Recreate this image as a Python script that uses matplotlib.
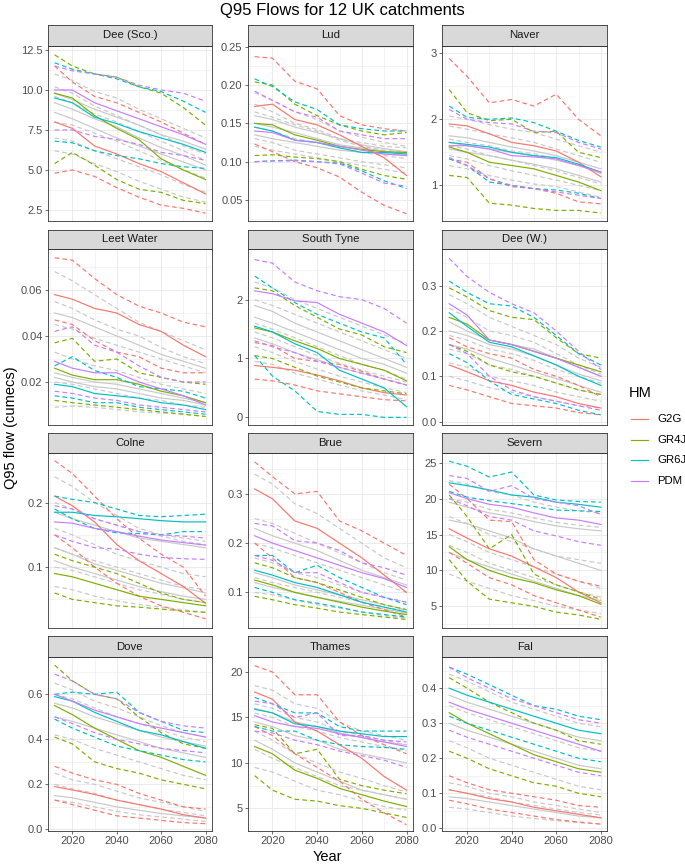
import matplotlib
matplotlib.use("Agg")
import matplotlib.pyplot as plt
from matplotlib.lines import Line2D

plt.rcParams['font.family'] = ['Liberation Sans', 'DejaVu Sans']

# ---------------- data ----------------
YEARS = [2012, 2020, 2030, 2040, 2050, 2060, 2070, 2080]
HMS = ["G2G", "GR4J", "GR6J", "PDM"]
HM_COLORS = ["#F8766D", "#7CAE00", "#00BFC4", "#C77CFF"]
CATCHMENTS = ["Dee (Sco.)", "Lud", "Naver", "Leet Water", "South Tyne", "Dee (W.)",
              "Colne", "Brue", "Severn", "Dove", "Thames", "Fal"]

# each HM entry: [median, upper, lower]
# Dee (Sco.)
dee_sco_g2g = [[8.0, 7.6, 6.5, 6.0, 5.4, 4.9, 4.2, 3.5], [11.5, 10.5, 9.6, 9.2, 8.6, 8.0, 7.3, 6.6], [4.8, 5.0, 4.6, 3.9, 3.3, 2.8, 2.6, 2.3]]
dee_sco_gr4j = [[9.8, 9.5, 8.4, 7.6, 6.9, 5.7, 5.0, 4.4], [12.2, 11.5, 11.0, 10.8, 10.2, 9.8, 8.9, 7.8], [5.4, 6.1, 5.3, 4.4, 3.8, 3.6, 3.1, 2.9]]
dee_sco_gr6j = [[9.5, 9.2, 8.3, 7.9, 7.4, 7.0, 6.6, 6.1], [11.7, 11.3, 11.0, 10.7, 10.2, 9.9, 9.3, 8.6], [6.8, 6.7, 6.2, 5.9, 5.7, 5.4, 5.2, 5.1]]
dee_sco_pdm = [[10.0, 10.0, 9.2, 8.7, 8.2, 7.7, 7.2, 6.6], [11.5, 11.2, 11.0, 10.8, 10.3, 10.0, 9.8, 9.3], [7.5, 7.5, 7.1, 6.9, 6.6, 6.1, 5.9, 5.6]]
dee_sco_grey_solid = [[9.2, 8.8, 8.2, 7.7, 7.0, 6.4, 5.9, 5.3], [8.6, 8.2, 7.6, 7.0, 6.5, 6.0, 5.5, 5.0], [9.8, 9.4, 8.8, 8.3, 7.8, 7.2, 6.8, 6.3]]
dee_sco_grey_dashed = [[11.0, 10.6, 9.9, 9.5, 8.8, 8.2, 7.6, 7.0], [7.0, 6.8, 6.2, 5.7, 5.2, 4.7, 4.1, 3.6],
                       [10.2, 9.8, 9.0, 8.4, 7.8, 7.2, 6.5, 6.0], [6.2, 6.0, 5.4, 4.9, 4.3, 3.8, 3.3, 3.0],
                       [8.0, 7.8, 7.3, 6.8, 6.2, 5.6, 5.0, 4.5], [9.6, 9.2, 8.5, 8.0, 7.4, 6.8, 6.2, 5.6]]

# Lud
lud_g2g = [[0.172, 0.175, 0.155, 0.148, 0.135, 0.12, 0.105, 0.082], [0.237, 0.235, 0.205, 0.195, 0.16, 0.148, 0.143, 0.14], [0.123, 0.113, 0.1, 0.092, 0.08, 0.06, 0.043, 0.032]]
lud_gr4j = [[0.15, 0.148, 0.135, 0.128, 0.12, 0.116, 0.113, 0.112], [0.204, 0.2, 0.175, 0.16, 0.148, 0.14, 0.135, 0.138], [0.108, 0.109, 0.106, 0.104, 0.1, 0.09, 0.082, 0.077]]
lud_gr6j = [[0.145, 0.14, 0.128, 0.125, 0.118, 0.112, 0.112, 0.11], [0.208, 0.198, 0.178, 0.168, 0.148, 0.143, 0.14, 0.14], [0.1, 0.101, 0.102, 0.1, 0.098, 0.088, 0.075, 0.065]]
lud_pdm = [[0.14, 0.138, 0.128, 0.125, 0.12, 0.115, 0.11, 0.108], [0.192, 0.18, 0.165, 0.158, 0.14, 0.135, 0.13, 0.13], [0.1, 0.101, 0.101, 0.1, 0.097, 0.085, 0.072, 0.068]]
lud_grey_solid = [[0.16, 0.155, 0.145, 0.138, 0.13, 0.122, 0.117, 0.113], [0.135, 0.13, 0.125, 0.12, 0.115, 0.112, 0.11, 0.108], [0.15, 0.145, 0.138, 0.13, 0.122, 0.118, 0.114, 0.11]]
lud_grey_dashed = [[0.19, 0.18, 0.165, 0.155, 0.14, 0.132, 0.125, 0.12], [0.12, 0.115, 0.11, 0.105, 0.1, 0.095, 0.09, 0.085],
                   [0.175, 0.165, 0.15, 0.142, 0.13, 0.125, 0.12, 0.118], [0.13, 0.125, 0.115, 0.11, 0.105, 0.1, 0.096, 0.092],
                   [0.145, 0.14, 0.13, 0.125, 0.118, 0.112, 0.108, 0.104], [0.165, 0.158, 0.148, 0.14, 0.128, 0.12, 0.115, 0.112]]

# Naver
naver_g2g = [[1.93, 1.9, 1.78, 1.65, 1.6, 1.52, 1.35, 1.13], [2.92, 2.65, 2.25, 2.3, 2.2, 2.38, 2.0, 1.75], [1.4, 1.35, 1.1, 0.98, 0.95, 0.88, 0.75, 0.72]]
naver_gr4j = [[1.58, 1.5, 1.35, 1.3, 1.25, 1.15, 1.05, 0.92], [2.45, 2.1, 1.98, 2.0, 1.8, 1.82, 1.5, 1.42], [1.15, 1.12, 0.73, 0.7, 0.65, 0.62, 0.62, 0.58]]
naver_gr6j = [[1.65, 1.62, 1.58, 1.5, 1.45, 1.42, 1.32, 1.2], [2.2, 2.03, 2.0, 2.02, 1.95, 1.82, 1.68, 1.58], [1.4, 1.3, 1.05, 1.0, 0.95, 0.93, 0.88, 0.8]]
naver_pdm = [[1.6, 1.6, 1.55, 1.45, 1.43, 1.4, 1.3, 1.2], [2.15, 2.0, 1.95, 1.93, 1.82, 1.8, 1.65, 1.55], [1.42, 1.3, 1.1, 1.0, 0.95, 0.9, 0.85, 0.8]]
naver_grey_solid = [[1.75, 1.72, 1.65, 1.58, 1.52, 1.45, 1.35, 1.25], [1.55, 1.5, 1.45, 1.38, 1.32, 1.25, 1.15, 1.05], [1.65, 1.6, 1.55, 1.5, 1.45, 1.38, 1.3, 1.18]]
naver_grey_dashed = [[2.05, 2.0, 1.92, 1.85, 1.8, 1.7, 1.6, 1.5], [1.3, 1.25, 1.15, 1.08, 1.02, 0.98, 0.9, 0.82],
                     [1.9, 1.85, 1.78, 1.72, 1.65, 1.55, 1.45, 1.35], [1.45, 1.4, 1.3, 1.22, 1.15, 1.08, 1.0, 0.92],
                     [1.7, 1.65, 1.6, 1.52, 1.48, 1.4, 1.3, 1.2], [1.6, 1.55, 1.45, 1.38, 1.3, 1.22, 1.12, 1.02]]

# Leet Water
leet_g2g = [[0.058, 0.056, 0.052, 0.05, 0.045, 0.042, 0.036, 0.031], [0.074, 0.073, 0.065, 0.058, 0.053, 0.05, 0.046, 0.044], [0.047, 0.045, 0.038, 0.033, 0.031, 0.026, 0.024, 0.024]]
leet_gr4j = [[0.026, 0.023, 0.021, 0.021, 0.019, 0.016, 0.014, 0.011], [0.037, 0.039, 0.029, 0.03, 0.024, 0.022, 0.02, 0.019], [0.012, 0.011, 0.01, 0.009, 0.008, 0.007, 0.006, 0.005]]
leet_gr6j = [[0.019, 0.018, 0.015, 0.014, 0.013, 0.011, 0.01, 0.008], [0.027, 0.031, 0.025, 0.022, 0.018, 0.017, 0.016, 0.013], [0.014, 0.013, 0.011, 0.011, 0.009, 0.008, 0.007, 0.006]]
leet_pdm = [[0.029, 0.026, 0.024, 0.024, 0.02, 0.017, 0.014, 0.01], [0.042, 0.044, 0.036, 0.033, 0.027, 0.022, 0.02, 0.02], [0.016, 0.015, 0.013, 0.012, 0.01, 0.009, 0.008, 0.007]]
leet_grey_solid = [[0.05, 0.048, 0.044, 0.04, 0.036, 0.032, 0.029, 0.026], [0.024, 0.022, 0.02, 0.019, 0.017, 0.015, 0.013, 0.011], [0.022, 0.02, 0.018, 0.017, 0.015, 0.013, 0.012, 0.01]]
leet_grey_dashed = [[0.068, 0.064, 0.058, 0.052, 0.046, 0.042, 0.038, 0.034], [0.009, 0.0095, 0.009, 0.008, 0.007, 0.0065, 0.006, 0.005],
                    [0.055, 0.052, 0.047, 0.043, 0.04, 0.035, 0.031, 0.028], [0.033, 0.03, 0.027, 0.025, 0.022, 0.019, 0.017, 0.015],
                    [0.045, 0.043, 0.039, 0.036, 0.033, 0.03, 0.027, 0.024], [0.02, 0.019, 0.017, 0.015, 0.013, 0.012, 0.01, 0.009]]

# South Tyne
styne_g2g = [[0.88, 0.85, 0.8, 0.72, 0.62, 0.5, 0.42, 0.38], [1.27, 1.22, 1.0, 0.95, 0.9, 0.78, 0.65, 0.55], [0.65, 0.62, 0.55, 0.45, 0.4, 0.35, 0.3, 0.28]]
styne_gr4j = [[1.52, 1.45, 1.3, 1.17, 1.0, 0.9, 0.8, 0.62], [2.2, 2.15, 1.9, 1.7, 1.5, 1.4, 1.2, 1.1], [1.05, 1.0, 0.85, 0.7, 0.6, 0.5, 0.45, 0.4]]
styne_gr6j = [[1.55, 1.45, 1.25, 1.1, 0.8, 0.65, 0.5, 0.18], [2.4, 2.2, 1.95, 1.75, 1.6, 1.45, 1.35, 0.9], [1.05, 0.7, 0.45, 0.1, 0.05, 0.05, 0.0, 0.0]]
styne_pdm = [[2.15, 2.1, 1.98, 1.95, 1.75, 1.6, 1.45, 1.22], [2.68, 2.62, 2.3, 2.15, 2.05, 2.0, 1.85, 1.6], [1.3, 1.2, 1.1, 0.95, 0.85, 0.75, 0.65, 0.55]]
styne_grey_solid = [[1.9, 1.8, 1.6, 1.45, 1.3, 1.15, 1.0, 0.85], [1.35, 1.25, 1.1, 0.98, 0.85, 0.75, 0.65, 0.55], [1.7, 1.6, 1.45, 1.3, 1.15, 1.0, 0.9, 0.75]]
styne_grey_dashed = [[2.3, 2.2, 2.0, 1.85, 1.7, 1.55, 1.4, 1.25], [0.95, 0.9, 0.75, 0.65, 0.55, 0.45, 0.38, 0.3],
                     [2.0, 1.9, 1.75, 1.6, 1.45, 1.3, 1.15, 1.0], [1.2, 1.1, 0.95, 0.82, 0.7, 0.6, 0.5, 0.42],
                     [1.6, 1.5, 1.35, 1.2, 1.05, 0.9, 0.8, 0.65], [1.45, 1.35, 1.2, 1.05, 0.92, 0.8, 0.7, 0.6]]

# Dee (W.)
deew_g2g = [[0.125, 0.11, 0.09, 0.08, 0.065, 0.055, 0.04, 0.03], [0.185, 0.165, 0.15, 0.14, 0.115, 0.1, 0.08, 0.055], [0.08, 0.07, 0.055, 0.04, 0.035, 0.03, 0.02, 0.015]]
deew_gr4j = [[0.23, 0.215, 0.18, 0.17, 0.155, 0.14, 0.125, 0.11], [0.295, 0.275, 0.245, 0.23, 0.225, 0.185, 0.15, 0.14], [0.17, 0.155, 0.125, 0.11, 0.1, 0.085, 0.07, 0.06]]
deew_gr6j = [[0.24, 0.21, 0.175, 0.165, 0.145, 0.125, 0.1, 0.08], [0.31, 0.285, 0.26, 0.255, 0.23, 0.19, 0.15, 0.125], [0.15, 0.13, 0.09, 0.06, 0.05, 0.04, 0.025, 0.015]]
deew_pdm = [[0.26, 0.235, 0.18, 0.17, 0.155, 0.14, 0.12, 0.1], [0.36, 0.32, 0.285, 0.26, 0.24, 0.2, 0.155, 0.115], [0.17, 0.15, 0.1, 0.07, 0.055, 0.045, 0.035, 0.025]]
deew_grey_solid = [[0.2, 0.19, 0.17, 0.16, 0.145, 0.125, 0.105, 0.09], [0.17, 0.16, 0.14, 0.125, 0.11, 0.095, 0.08, 0.065], [0.22, 0.2, 0.18, 0.17, 0.16, 0.14, 0.12, 0.1]]
deew_grey_dashed = [[0.28, 0.26, 0.23, 0.21, 0.19, 0.17, 0.14, 0.12], [0.1, 0.09, 0.075, 0.065, 0.055, 0.045, 0.035, 0.03],
                    [0.25, 0.23, 0.2, 0.19, 0.175, 0.15, 0.125, 0.105], [0.13, 0.12, 0.1, 0.09, 0.08, 0.065, 0.055, 0.045],
                    [0.19, 0.18, 0.16, 0.15, 0.135, 0.115, 0.1, 0.085], [0.16, 0.15, 0.125, 0.115, 0.1, 0.085, 0.07, 0.06]]

# Colne
colne_g2g = [[0.21, 0.195, 0.17, 0.135, 0.11, 0.09, 0.07, 0.044], [0.265, 0.245, 0.21, 0.175, 0.145, 0.12, 0.1, 0.055], [0.15, 0.13, 0.1, 0.075, 0.055, 0.04, 0.03, 0.02]]
colne_gr4j = [[0.09, 0.085, 0.075, 0.065, 0.055, 0.05, 0.045, 0.04], [0.12, 0.11, 0.1, 0.09, 0.075, 0.06, 0.05, 0.045], [0.06, 0.05, 0.045, 0.04, 0.038, 0.035, 0.032, 0.03]]
colne_gr6j = [[0.185, 0.185, 0.18, 0.178, 0.175, 0.172, 0.17, 0.17], [0.21, 0.205, 0.2, 0.19, 0.18, 0.178, 0.18, 0.182], [0.19, 0.175, 0.16, 0.153, 0.152, 0.15, 0.155, 0.155]]
colne_pdm = [[0.17, 0.168, 0.16, 0.155, 0.148, 0.142, 0.138, 0.134], [0.195, 0.19, 0.175, 0.165, 0.155, 0.15, 0.148, 0.145], [0.15, 0.14, 0.13, 0.128, 0.12, 0.115, 0.113, 0.112]]
colne_grey_solid = [[0.185, 0.175, 0.165, 0.155, 0.145, 0.14, 0.135, 0.13], [0.13, 0.12, 0.105, 0.095, 0.085, 0.075, 0.068, 0.06], [0.11, 0.1, 0.09, 0.08, 0.07, 0.062, 0.055, 0.05]]
colne_grey_dashed = [[0.24, 0.225, 0.2, 0.18, 0.16, 0.15, 0.145, 0.14], [0.07, 0.065, 0.055, 0.048, 0.042, 0.038, 0.034, 0.03],
                     [0.16, 0.15, 0.135, 0.12, 0.11, 0.1, 0.09, 0.085], [0.1, 0.095, 0.085, 0.075, 0.065, 0.058, 0.05, 0.045],
                     [0.2, 0.19, 0.175, 0.165, 0.155, 0.148, 0.14, 0.135], [0.13, 0.12, 0.11, 0.1, 0.09, 0.08, 0.07, 0.065]]

# Brue
brue_g2g = [[0.31, 0.29, 0.245, 0.23, 0.2, 0.17, 0.135, 0.1], [0.365, 0.335, 0.3, 0.305, 0.245, 0.225, 0.2, 0.175], [0.2, 0.17, 0.13, 0.12, 0.1, 0.08, 0.065, 0.05]]
brue_gr4j = [[0.125, 0.115, 0.1, 0.09, 0.08, 0.07, 0.062, 0.055], [0.16, 0.15, 0.13, 0.12, 0.105, 0.09, 0.075, 0.065], [0.092, 0.085, 0.075, 0.068, 0.06, 0.055, 0.05, 0.045]]
brue_gr6j = [[0.145, 0.135, 0.12, 0.11, 0.095, 0.08, 0.07, 0.06], [0.175, 0.175, 0.14, 0.155, 0.13, 0.11, 0.09, 0.075], [0.11, 0.1, 0.085, 0.078, 0.07, 0.06, 0.055, 0.05]]
brue_pdm = [[0.215, 0.2, 0.185, 0.17, 0.155, 0.14, 0.128, 0.11], [0.24, 0.235, 0.205, 0.2, 0.185, 0.16, 0.15, 0.135], [0.175, 0.165, 0.14, 0.14, 0.12, 0.1, 0.09, 0.08]]
brue_grey_solid = [[0.23, 0.215, 0.2, 0.185, 0.165, 0.145, 0.13, 0.115], [0.14, 0.13, 0.115, 0.105, 0.095, 0.085, 0.075, 0.065], [0.12, 0.11, 0.1, 0.09, 0.082, 0.074, 0.066, 0.058]]
brue_grey_dashed = [[0.34, 0.32, 0.28, 0.26, 0.23, 0.2, 0.17, 0.15], [0.1, 0.095, 0.085, 0.075, 0.068, 0.06, 0.053, 0.048],
                    [0.25, 0.24, 0.22, 0.2, 0.18, 0.16, 0.14, 0.125], [0.17, 0.16, 0.14, 0.13, 0.115, 0.1, 0.09, 0.08],
                    [0.2, 0.19, 0.175, 0.16, 0.145, 0.13, 0.115, 0.1], [0.13, 0.12, 0.11, 0.1, 0.09, 0.08, 0.07, 0.063]]

# Severn
severn_g2g = [[15.8, 14.5, 13.0, 12.0, 10.5, 9.0, 7.0, 5.5], [22.0, 20.0, 17.0, 16.8, 11.5, 9.5, 8.5, 7.8], [12.5, 11.0, 9.0, 8.0, 6.5, 5.5, 4.5, 3.5]]
severn_gr4j = [[13.3, 11.5, 10.0, 9.0, 8.3, 7.3, 6.5, 5.3], [20.5, 17.5, 13.0, 15.0, 9.5, 8.0, 7.0, 6.0], [11.5, 8.5, 6.0, 5.5, 5.0, 4.2, 3.8, 3.2]]
severn_gr6j = [[22.2, 21.8, 21.2, 20.5, 20.2, 19.5, 19.2, 18.8], [25.2, 24.5, 23.0, 23.7, 20.5, 19.8, 19.6, 19.5], [21.0, 20.2, 19.7, 19.3, 18.9, 18.4, 18.3, 18.2]]
severn_pdm = [[20.8, 20.0, 19.2, 18.8, 18.0, 17.3, 17.0, 16.4], [23.2, 22.8, 21.0, 21.8, 20.0, 19.5, 19.0, 17.8], [20.0, 19.0, 17.5, 17.0, 15.5, 14.8, 14.0, 13.5]]
severn_grey_solid = [[19.5, 18.8, 18.0, 17.5, 16.8, 16.2, 15.8, 15.5], [12.5, 11.5, 10.5, 9.5, 8.5, 7.5, 6.5, 5.8], [17.0, 16.5, 15.5, 14.5, 13.0, 12.0, 11.0, 10.0]]
severn_grey_dashed = [[22.5, 22.0, 21.0, 20.5, 19.5, 18.8, 18.3, 18.0], [9.5, 8.5, 7.5, 6.5, 5.8, 5.0, 4.5, 4.0],
                      [17.5, 16.5, 15.0, 14.0, 13.0, 12.0, 11.5, 11.0], [13.5, 12.5, 11.0, 10.0, 9.0, 8.0, 7.0, 6.3],
                      [20.0, 19.5, 18.5, 18.0, 17.3, 16.7, 16.3, 16.0], [15.0, 14.0, 12.5, 11.5, 10.5, 9.5, 8.5, 7.5]]

# Dove
dove_g2g = [[0.19, 0.175, 0.155, 0.13, 0.11, 0.09, 0.065, 0.05], [0.28, 0.25, 0.22, 0.2, 0.16, 0.13, 0.1, 0.09], [0.13, 0.11, 0.085, 0.06, 0.05, 0.04, 0.03, 0.025]]
dove_gr4j = [[0.55, 0.51, 0.45, 0.4, 0.35, 0.32, 0.28, 0.24], [0.73, 0.66, 0.6, 0.58, 0.5, 0.43, 0.38, 0.36], [0.41, 0.38, 0.3, 0.27, 0.25, 0.22, 0.2, 0.18]]
dove_gr6j = [[0.59, 0.57, 0.52, 0.48, 0.44, 0.42, 0.39, 0.36], [0.6, 0.61, 0.6, 0.61, 0.52, 0.48, 0.44, 0.43], [0.49, 0.45, 0.41, 0.37, 0.35, 0.33, 0.31, 0.3]]
dove_pdm = [[0.6, 0.57, 0.53, 0.5, 0.47, 0.45, 0.43, 0.41], [0.69, 0.66, 0.6, 0.58, 0.52, 0.48, 0.46, 0.45], [0.5, 0.47, 0.43, 0.4, 0.38, 0.36, 0.35, 0.34]]
dove_grey_solid = [[0.56, 0.54, 0.5, 0.47, 0.44, 0.41, 0.39, 0.37], [0.5, 0.48, 0.45, 0.42, 0.39, 0.36, 0.34, 0.32], [0.15, 0.14, 0.12, 0.1, 0.085, 0.07, 0.06, 0.05]]
dove_grey_dashed = [[0.65, 0.62, 0.57, 0.54, 0.5, 0.46, 0.43, 0.41], [0.42, 0.4, 0.36, 0.33, 0.3, 0.27, 0.24, 0.22],
                    [0.25, 0.22, 0.2, 0.17, 0.14, 0.12, 0.1, 0.08], [0.13, 0.12, 0.1, 0.08, 0.065, 0.055, 0.045, 0.035],
                    [0.6, 0.58, 0.54, 0.5, 0.47, 0.44, 0.41, 0.39], [0.2, 0.18, 0.16, 0.13, 0.11, 0.09, 0.075, 0.06]]

# Thames
thames_g2g = [[17.8, 17.0, 14.5, 13.5, 12.0, 10.5, 8.5, 7.0], [20.7, 20.0, 17.5, 17.5, 14.5, 13.0, 12.0, 11.0], [14.0, 13.0, 11.0, 9.5, 8.0, 6.0, 4.5, 3.2]]
thames_gr4j = [[11.8, 11.0, 9.2, 8.3, 7.2, 6.5, 5.8, 5.2], [14.2, 13.8, 11.0, 11.5, 8.2, 7.5, 7.0, 6.6], [8.6, 7.0, 6.0, 5.8, 5.3, 5.0, 4.5, 4.0]]
thames_gr6j = [[15.9, 15.5, 14.3, 14.0, 13.5, 13.2, 12.9, 12.9], [17.2, 16.5, 15.5, 15.5, 14.0, 13.5, 13.5, 13.5], [14.0, 13.5, 13.5, 12.5, 12.0, 11.8, 11.7, 11.5]]
thames_pdm = [[15.2, 14.5, 14.0, 13.8, 13.2, 12.8, 12.3, 11.8], [16.8, 16.5, 15.0, 15.5, 13.0, 13.0, 12.5, 12.3], [13.5, 13.3, 12.5, 12.0, 11.3, 10.8, 10.3, 9.5]]
thames_grey_solid = [[16.0, 15.5, 14.5, 14.0, 13.3, 12.8, 12.3, 12.0], [14.5, 14.0, 13.0, 12.5, 11.5, 11.0, 10.5, 10.0], [12.5, 11.5, 10.0, 9.0, 8.0, 7.0, 6.5, 6.0]]
thames_grey_dashed = [[18.5, 18.0, 16.5, 16.0, 14.5, 13.5, 13.0, 12.5], [9.5, 9.0, 8.0, 7.0, 6.5, 5.8, 5.2, 4.8],
                      [16.5, 16.0, 15.0, 14.5, 13.5, 13.0, 12.5, 12.0], [11.5, 10.5, 9.5, 8.5, 7.5, 7.0, 6.5, 6.0],
                      [15.5, 15.0, 14.0, 13.5, 12.8, 12.3, 11.8, 11.3], [13.5, 12.5, 11.0, 10.0, 9.0, 8.3, 7.5, 6.8]]

# Fal
fal_g2g = [[0.11, 0.1, 0.085, 0.075, 0.06, 0.05, 0.04, 0.03], [0.15, 0.13, 0.11, 0.1, 0.09, 0.08, 0.065, 0.06], [0.08, 0.07, 0.055, 0.045, 0.035, 0.025, 0.018, 0.012]]
fal_gr4j = [[0.33, 0.3, 0.27, 0.24, 0.21, 0.19, 0.17, 0.16], [0.43, 0.4, 0.36, 0.33, 0.3, 0.28, 0.25, 0.24], [0.22, 0.2, 0.17, 0.15, 0.13, 0.12, 0.1, 0.09]]
fal_gr6j = [[0.4, 0.38, 0.36, 0.34, 0.32, 0.3, 0.28, 0.27], [0.46, 0.44, 0.41, 0.38, 0.35, 0.34, 0.32, 0.31], [0.32, 0.3, 0.28, 0.26, 0.24, 0.22, 0.2, 0.19]]
fal_pdm = [[0.36, 0.34, 0.32, 0.3, 0.28, 0.26, 0.24, 0.22], [0.46, 0.43, 0.4, 0.37, 0.35, 0.33, 0.31, 0.3], [0.28, 0.26, 0.24, 0.22, 0.2, 0.18, 0.16, 0.15]]
fal_grey_solid = [[0.38, 0.36, 0.34, 0.32, 0.3, 0.28, 0.26, 0.25], [0.3, 0.28, 0.26, 0.24, 0.22, 0.2, 0.18, 0.17], [0.09, 0.085, 0.075, 0.065, 0.055, 0.045, 0.035, 0.03]]
fal_grey_dashed = [[0.44, 0.42, 0.39, 0.36, 0.34, 0.32, 0.3, 0.29], [0.25, 0.23, 0.2, 0.18, 0.16, 0.14, 0.12, 0.11],
                   [0.13, 0.12, 0.1, 0.09, 0.075, 0.065, 0.055, 0.045], [0.06, 0.055, 0.045, 0.035, 0.028, 0.022, 0.016, 0.012],
                   [0.35, 0.33, 0.31, 0.29, 0.27, 0.25, 0.23, 0.22], [0.11, 0.1, 0.09, 0.075, 0.065, 0.055, 0.045, 0.038]]

# y tick values and labels per panel
YTICKS = [[2.5, 5.0, 7.5, 10.0, 12.5], [0.05, 0.10, 0.15, 0.20, 0.25], [1, 2, 3],
          [0.02, 0.04, 0.06], [0, 1, 2], [0.0, 0.1, 0.2, 0.3],
          [0.1, 0.2], [0.1, 0.2, 0.3], [5, 10, 15, 20, 25],
          [0.0, 0.2, 0.4, 0.6], [5, 10, 15, 20], [0.0, 0.1, 0.2, 0.3, 0.4]]
YTICKLABELS = [["2.5", "5.0", "7.5", "10.0", "12.5"], ["0.05", "0.10", "0.15", "0.20", "0.25"], ["1", "2", "3"],
               ["0.02", "0.04", "0.06"], ["0", "1", "2"], ["0.0", "0.1", "0.2", "0.3"],
               ["0.1", "0.2"], ["0.1", "0.2", "0.3"], ["5", "10", "15", "20", "25"],
               ["0.0", "0.2", "0.4", "0.6"], ["5", "10", "15", "20"], ["0.0", "0.1", "0.2", "0.3", "0.4"]]
XTICKS = [2020, 2040, 2060, 2080]

PANEL_HM = [
    [dee_sco_g2g, dee_sco_gr4j, dee_sco_gr6j, dee_sco_pdm],
    [lud_g2g, lud_gr4j, lud_gr6j, lud_pdm],
    [naver_g2g, naver_gr4j, naver_gr6j, naver_pdm],
    [leet_g2g, leet_gr4j, leet_gr6j, leet_pdm],
    [styne_g2g, styne_gr4j, styne_gr6j, styne_pdm],
    [deew_g2g, deew_gr4j, deew_gr6j, deew_pdm],
    [colne_g2g, colne_gr4j, colne_gr6j, colne_pdm],
    [brue_g2g, brue_gr4j, brue_gr6j, brue_pdm],
    [severn_g2g, severn_gr4j, severn_gr6j, severn_pdm],
    [dove_g2g, dove_gr4j, dove_gr6j, dove_pdm],
    [thames_g2g, thames_gr4j, thames_gr6j, thames_pdm],
    [fal_g2g, fal_gr4j, fal_gr6j, fal_pdm],
]
PANEL_GREY_SOLID = [dee_sco_grey_solid, lud_grey_solid, naver_grey_solid, leet_grey_solid, styne_grey_solid,
                    deew_grey_solid, colne_grey_solid, brue_grey_solid, severn_grey_solid, dove_grey_solid,
                    thames_grey_solid, fal_grey_solid]
PANEL_GREY_DASHED = [dee_sco_grey_dashed, lud_grey_dashed, naver_grey_dashed, leet_grey_dashed, styne_grey_dashed,
                     deew_grey_dashed, colne_grey_dashed, brue_grey_dashed, severn_grey_dashed, dove_grey_dashed,
                     thames_grey_dashed, fal_grey_dashed]

# ---------------- layout / style ----------------
YLIMS = [(1.81, 12.75), (0.0226, 0.2509), (0.46, 3.11),
         (0.0013, 0.0777), (-0.13, 2.855), (-0.0074, 0.380),
         (0.0057, 0.2763), (0.0277, 0.3824), (1.99, 26.3),
         (-0.0074, 0.766), (2.51, 21.65), (-0.0077, 0.489)]
XLIM = (2008.9, 2082.9)

W, H = 685, 867
fig = plt.figure(figsize=(W / 100, H / 100), dpi=100)
fig.patch.set_facecolor("white")

COLS = [(47.7, 212.0), (247.7, 413.0), (442.3, 607.3)]
ROWS = [(25.0, 46.0, 221.0), (229.7, 249.3, 425.0), (432.7, 453.3, 628.0), (636.3, 657.0, 831.0)]

def fx(px):
    return px / W

def fy(py):
    return 1 - py / H

GRID_C = "#EBEBEB"
BORDER_C = "#333333"
TICK_C = "#4D4D4D"
GREY_LINE = "#C8C8C8"
DASH = (0, (4.0, 2.6))
LW = 0.85

for i, name in enumerate(CATCHMENTS):
    r, c = divmod(i, 3)
    x0, x1 = COLS[c]
    st, pt, pb = ROWS[r]
    ax = fig.add_axes([fx(x0), fy(pb), fx(x1) - fx(x0), (pb - pt) / H])
    sax = fig.add_axes([fx(x0), fy(pt), fx(x1) - fx(x0), (pt - st) / H])

    # strip
    sax.set_facecolor("#D9D9D9")
    sax.set_xticks([]); sax.set_yticks([])
    for sp in sax.spines.values():
        sp.set_color(BORDER_C); sp.set_linewidth(0.6)
    sax.text(0.5, 0.5, name, ha="center", va="center", fontsize=8.2, color="#1A1A1A",
             transform=sax.transAxes)

    # grid
    ylo, yhi = YLIMS[i]
    yt = YTICKS[i]
    step = yt[1] - yt[0]
    yminor = [yt[0] - step / 2] + [v + step / 2 for v in yt]
    yminor = [v for v in yminor if ylo < v < yhi]
    ax.set_xlim(*XLIM)
    ax.set_ylim(ylo, yhi)
    ax.set_xticks(XTICKS)
    ax.set_xticks([2010, 2030, 2050, 2070], minor=True)
    ax.set_yticks(yt)
    ax.set_yticks(yminor, minor=True)
    ax.set_yticklabels(YTICKLABELS[i])
    ax.grid(which="major", color=GRID_C, lw=0.75)
    ax.grid(which="minor", color=GRID_C, lw=0.4)
    ax.set_axisbelow(True)
    for sp in ax.spines.values():
        sp.set_color(BORDER_C); sp.set_linewidth(0.6)
    ax.tick_params(axis="y", which="major", length=2.2, width=0.5, color=BORDER_C,
                   labelsize=8, labelcolor=TICK_C, pad=1.5)
    ax.tick_params(which="minor", length=0)
    if r == 3:
        ax.set_xticklabels([str(v) for v in XTICKS])
        ax.tick_params(axis="x", which="major", length=2.2, width=0.5, color=BORDER_C,
                       labelsize=8, labelcolor=TICK_C, pad=1.5)
    else:
        ax.tick_params(axis="x", which="major", length=0, labelbottom=False)

    # grey ensemble lines
    for ys in PANEL_GREY_DASHED[i]:
        ax.plot(YEARS, ys, color=GREY_LINE, lw=LW, ls=DASH)
    for ys in PANEL_GREY_SOLID[i]:
        ax.plot(YEARS, ys, color=GREY_LINE, lw=LW, ls="-")

    # coloured HM lines
    for k, (med, hi, lo) in enumerate(PANEL_HM[i]):
        col = HM_COLORS[k]
        ax.plot(YEARS, hi, color=col, lw=LW, ls=DASH)
        ax.plot(YEARS, lo, color=col, lw=LW, ls=DASH)
        ax.plot(YEARS, med, color=col, lw=LW, ls="-")

# titles
fig.text(0.5, fy(11), "Q95 Flows for 12 UK catchments", ha="center", va="center",
         fontsize=12, color="black")
fig.text(fx(11), fy(428), "Q95 flow (cumecs)", ha="center", va="center", rotation=90,
         fontsize=10.5, color="black")
fig.text(fx(327.5), fy(857), "Year", ha="center", va="center", fontsize=10.5, color="black")

# legend
fig.text(fx(629), fy(393), "HM", ha="left", va="center", fontsize=10.5, color="black")
for k, (lab, col) in enumerate(zip(HMS, HM_COLORS)):
    yy = [419, 440, 460, 481][k]
    fig.add_artist(Line2D([fx(631), fx(648)], [fy(yy), fy(yy)], transform=fig.transFigure,
                          color=col, lw=LW))
    fig.text(fx(657), fy(yy), lab, ha="left", va="center", fontsize=8.2, color="black")

fig.savefig("out.png", dpi=100, facecolor="white")
